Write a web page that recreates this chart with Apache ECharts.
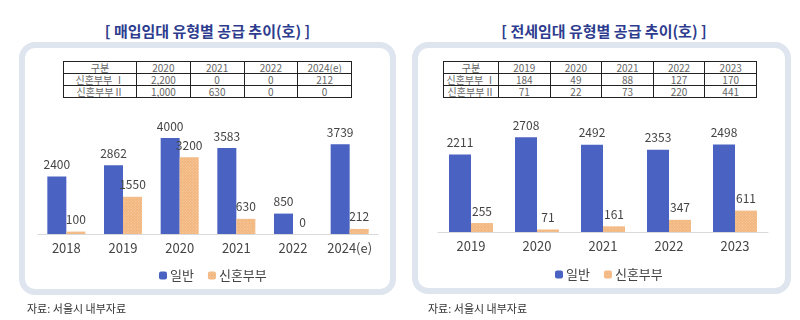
<!DOCTYPE html>
<html>
<head>
<meta charset="utf-8">
<script src="https://cdn.jsdelivr.net/npm/echarts@6/dist/echarts.min.js"></script>
<style>
  body { margin: 0; background: #fff; font-family: "Noto Sans CJK KR", sans-serif; }
  #wrap { position: relative; width: 800px; height: 320px; overflow: hidden; }
  .panel { position: absolute; border: 6px solid #dfe5ee; border-radius: 16px; box-sizing: border-box; }
  .title { position: absolute; top: 20px; font-size: 15px; font-weight: bold; color: #2d3c8e; text-align: center; white-space: nowrap; }
  .src { position: absolute; top: 300px; font-size: 11px; color: #333; }
  table { position: absolute; top: 61px; border-collapse: collapse; font-size: 10px; color: #666; table-layout: fixed; }
  td { border: 1px solid #222; text-align: center; height: 11px; line-height: 11px; padding: 0; }
  #chart { position: absolute; left: 0; top: 0; width: 800px; height: 320px; }
</style>
</head>
<body>
<div id="wrap">
  <div class="panel" style="left:19px;top:42px;width:377px;height:253px"></div>
  <div class="panel" style="left:412px;top:42px;width:379px;height:252px"></div>
  <div class="title" style="left:0;width:415px">[ 매입임대 유형별 공급 추이(호) ]</div>
  <div class="title" style="left:400px;width:408px">[ 전세임대 유형별 공급 추이(호) ]</div>
  <table id="tblLeft" style="left:63px;width:289px"></table>
  <table id="tblRight" style="left:443px;width:314px"></table>
  <div id="chart"></div>
  <div class="src" style="left:27px">자료: 서울시 내부자료</div>
  <div class="src" style="left:428px">자료: 서울시 내부자료</div>
</div>
<script>
// 매입임대
const leftCats = ["2018", "2019", "2020", "2021", "2022", "2024(e)"];
const leftGeneral = [2400, 2862, 4000, 3583, 850, 3739];
const leftNewlywed = [100, 1550, 3200, 630, 0, 212];
const leftTableHead = ["구분", "2020", "2021", "2022", "2024(e)"];
const leftTableRows = [
  ["신혼부부 Ⅰ", "2,200", "0", "0", "212"],
  ["신혼부부Ⅱ", "1,000", "630", "0", "0"],
];

// 전세임대
const rightCats = ["2019", "2020", "2021", "2022", "2023"];
const rightGeneral = [2211, 2708, 2492, 2353, 2498];
const rightNewlywed = [255, 71, 161, 347, 611];
const rightTableHead = ["구분", "2019", "2020", "2021", "2022", "2023"];
const rightTableRows = [
  ["신혼부부 Ⅰ", "184", "49", "88", "127", "170"],
  ["신혼부부Ⅱ", "71", "22", "73", "220", "441"],
];

function fillTable(id, head, rows, firstW) {
  const t = document.getElementById(id);
  [head].concat(rows).forEach(function (r) {
    const tr = document.createElement("tr");
    r.forEach(function (c, i) {
      const td = document.createElement("td");
      td.textContent = c;
      if (i === 0) td.style.width = firstW + "px";
      tr.appendChild(td);
    });
    t.appendChild(tr);
  });
}
fillTable("tblLeft", leftTableHead, leftTableRows, 72);
fillTable("tblRight", rightTableHead, rightTableRows, 54);

var chartDom = document.getElementById("chart");
var myChart = echarts.init(chartDom);

const blue = "#4a62c2";
const orange = "#f2b57c";
const hatch = {
  symbol: "rect",
  symbolSize: 1,
  dashArrayX: [1, 1],
  dashArrayY: [1, 1],
  rotation: Math.PI / 4,
  color: "rgba(255,255,255,0.35)",
};

var labelStyle = {
  show: true,
  position: "top",
  distance: 6,
  fontSize: 12,
  color: "#444",
  fontFamily: "Noto Sans CJK KR",
};

function xAxisFor(idx, data, margin) {
  return {
    type: "category",
    gridIndex: idx,
    data: data,
    axisLine: { lineStyle: { color: "#d9d9d9" } },
    axisTick: { show: false },
    axisLabel: { interval: 0, fontSize: 13, color: "#444", margin: margin, fontFamily: "Noto Sans CJK KR" },
  };
}

function yAxisFor(idx, max) {
  return {
    type: "value",
    gridIndex: idx,
    min: 0,
    max: max,
    show: false,
    splitLine: { show: false },
  };
}

let option = {
  animation: false,
  textStyle: { fontFamily: "Noto Sans CJK KR" },
  grid: [
    { left: 38, right: 422, top: 114, bottom: 86 },
    { left: 438, right: 32, top: 127, bottom: 88 },
  ],
  xAxis: [xAxisFor(0, leftCats, 8), xAxisFor(1, rightCats, 8)],
  yAxis: [yAxisFor(0, 5000), yAxisFor(1, 3000)],
  legend: [
    {
      data: ["일반", "신혼부부"],
      left: 154,
      top: 264,
      itemWidth: 8,
      itemHeight: 8,
      itemGap: 14,
      textStyle: { fontSize: 13, color: "#444", padding: [0, 0, 0, -2] },
    },
    {
      data: ["일반 ", "신혼부부 "],
      left: 550,
      top: 263,
      itemWidth: 8,
      itemHeight: 8,
      itemGap: 14,
      formatter: function (n) { return n.trim(); },
      textStyle: { fontSize: 13, color: "#444", padding: [0, 0, 0, -2] },
    },
  ],
  series: [
    {
      name: "일반",
      type: "bar",
      xAxisIndex: 0,
      yAxisIndex: 0,
      barWidth: 19,
      barGap: "0%",
      itemStyle: { color: blue },
      label: labelStyle,
      data: leftGeneral,
    },
    {
      name: "신혼부부",
      type: "bar",
      xAxisIndex: 0,
      yAxisIndex: 0,
      barWidth: 19,
      barGap: "0%",
      itemStyle: { color: orange, decal: hatch },
      label: labelStyle,
      data: leftNewlywed,
    },
    {
      name: "일반 ",
      type: "bar",
      xAxisIndex: 1,
      yAxisIndex: 1,
      barWidth: 22,
      barGap: "0%",
      itemStyle: { color: blue },
      label: labelStyle,
      data: rightGeneral,
    },
    {
      name: "신혼부부 ",
      type: "bar",
      xAxisIndex: 1,
      yAxisIndex: 1,
      barWidth: 22,
      barGap: "0%",
      itemStyle: { color: orange, decal: hatch },
      label: labelStyle,
      data: rightNewlywed,
    },
  ],
};

option && myChart.setOption(option);
</script>
</body>
</html>
